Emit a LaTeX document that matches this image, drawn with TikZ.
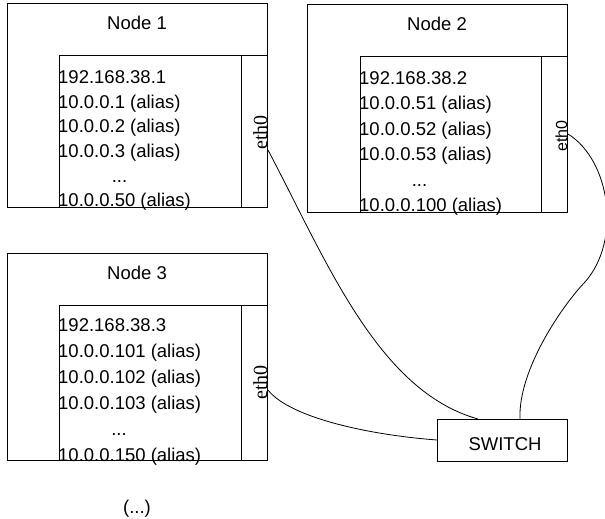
\documentclass[tikz,border=0pt]{standalone}
\usepackage{fontspec}
\setmainfont{Liberation Sans}
\newfontfamily\ethserif{Liberation Serif}
\newcommand\txtsize{\fontsize{18.5}{20}\selectfont}
\tikzset{
  box/.style={draw, line width=1pt, inner sep=0pt, outer sep=0pt, anchor=north west},
  lbl/.style={font=\txtsize, inner sep=0pt, anchor=base west},
  ttl/.style={font=\txtsize, inner sep=0pt, anchor=base},
  eths/.style={font=\ethserif\fontsize{20}{20}\selectfont, inner sep=0pt, anchor=base west, rotate=90},
  ethsans/.style={font=\fontsize{16}{16}\selectfont, inner sep=0pt, anchor=base west, rotate=90},
  wire/.style={line width=0.8pt}
}
\begin{document}
\begin{tikzpicture}[x=1pt,y=-1pt]
\useasboundingbox (0,0) rectangle (605,519);
\clip (0,0) rectangle (605,519);
% Node 1
\node[box, minimum width=260pt, minimum height=203pt] (n1) at (7,4) {};
\node[box, minimum width=182pt, minimum height=151.3pt] (n1in) at (59,55.7) {};
\node[box, minimum width=26pt, minimum height=151.3pt] (n1eth) at (241,55.7) {};
\node[ttl] (n1t) at (137,30) {Node 1};
\node[lbl] (n1a) at (58,83.3) {192.168.38.1};
\node[lbl] (n1b) at (58,108) {10.0.0.1 (alias)};
\node[lbl] (n1c) at (58,132.7) {10.0.0.2 (alias)};
\node[lbl] (n1d) at (58,157.4) {10.0.0.3 (alias)};
\node[ttl] (n1e) at (119.5,182) {...};
\node[lbl] (n1f) at (58,206.7) {10.0.0.50 (alias)};
\node[eths] (n1p) at (267,150) {eth0};
% Node 2
\node[box, minimum width=260pt, minimum height=207.7pt] (n2) at (307,4.3) {};
\node[box, minimum width=181pt, minimum height=155.3pt] (n2in) at (360,56.7) {};
\node[box, minimum width=26pt, minimum height=155.3pt] (n2eth) at (541,56.7) {};
\node[ttl] (n2t) at (437,31) {Node 2};
\node[lbl] (n2a) at (359,84.3) {192.168.38.2};
\node[lbl] (n2b) at (359,109.8) {10.0.0.51 (alias)};
\node[lbl] (n2c) at (359,135.3) {10.0.0.52 (alias)};
\node[lbl] (n2d) at (359,160.8) {10.0.0.53 (alias)};
\node[ttl] (n2e) at (419.5,186.3) {...};
\node[lbl] (n2f) at (359,211.8) {10.0.0.100 (alias)};
\node[ethsans] (n2p) at (567,152) {eth0};
% Node 3
\node[box, minimum width=260pt, minimum height=206.7pt] (n3) at (7,253.3) {};
\node[box, minimum width=182pt, minimum height=155pt] (n3in) at (59,305) {};
\node[box, minimum width=26pt, minimum height=155pt] (n3eth) at (241,305) {};
\node[ttl] (n3t) at (137,279.3) {Node 3};
\node[lbl] (n3a) at (58,331) {192.168.38.3};
\node[lbl] (n3b) at (58,357) {10.0.0.101 (alias)};
\node[lbl] (n3c) at (58,383) {10.0.0.102 (alias)};
\node[lbl] (n3d) at (58,409) {10.0.0.103 (alias)};
\node[ttl] (n3e) at (119,435) {...};
\node[lbl] (n3f) at (58,461) {10.0.0.150 (alias)};
\node[eths] (n3p) at (267,400) {eth0};
% more
\node[ttl] (more) at (137,513) {(...)};
% Switch
\node[box, minimum width=130pt, minimum height=42pt] (sw) at (437,419) {};
\node[ttl] (swt) at (505,450) {SWITCH};
% connection points
\coordinate (e1) at (268,150);
\coordinate (e2) at (568,134);
\coordinate (e3) at (268,390);
\coordinate (s1) at (478,419);
\coordinate (s2) at (520,419);
\coordinate (s3) at (437,440);
\coordinate (m2) at (585,282);
% wires
\draw[wire] (e1) .. controls (327,262) and (378,391) .. (s1);
\draw[wire] (e2) .. controls (610,160) and (622,240) .. (m2)
            .. controls (562,306) and (518,370) .. (s2);
\draw[wire] (e3) .. controls (290,418) and (370,435) .. (s3);
\end{tikzpicture}
\end{document}
